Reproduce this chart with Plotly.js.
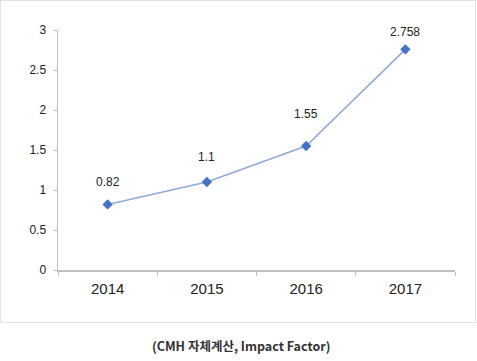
<!DOCTYPE html>
<html><head><meta charset="utf-8">
<script src="https://cdn.plot.ly/plotly-3.0.1.min.js"></script>
<style>
html,body{margin:0;padding:0;background:#fff;}
#wrap{position:relative;width:477px;height:361px;}
#frame{position:absolute;left:0;top:0;width:474px;height:321px;border:1.5px solid #e2e2e2;pointer-events:none;}
#chart{position:absolute;left:0;top:0;width:477px;height:361px;}
</style>
</head><body>
<div id="wrap"><div id="chart"></div><div id="frame"></div></div>
<script>
const years = ['2014', '2015', '2016', '2017'];
const impactFactor = [0.82, 1.1, 1.55, 2.758];
const valueLabels = ['0.82', '1.1', '1.55', '2.758'];
const yTicks = [0, 0.5, 1, 1.5, 2, 2.5, 3];
const caption = '(CMH 자체계산, Impact Factor)';

// pixel offsets of the value labels above their markers (layout only)
const labelOffsets = [22, 25, 32, 17];

const trace = {
  x: years, y: impactFactor, type: 'scatter', mode: 'lines+markers',
  line: {color: '#8fa9d9', width: 1.5},
  marker: {symbol: 'diamond', size: 8, color: '#4472c4'},
  cliponaxis: false,
  hoverinfo: 'skip'
};
const annotations = years.map((yr, i) => ({
  xref: 'x', yref: 'y', x: i, y: impactFactor[i], text: valueLabels[i],
  showarrow: false, yanchor: 'middle', yshift: labelOffsets[i],
  font: {family: 'Liberation Sans, Arial', size: 12, color: '#222'}
}));
annotations.push({
  xref: 'paper', yref: 'paper', x: 0.46, y: -0.3125, yanchor: 'middle', text: '<b>' + caption + '</b>',
  showarrow: false, font: {family: 'Noto Sans CJK KR', size: 12.5, color: '#333'}
});
const layout = {
  width: 477, height: 361,
  margin: {l: 58, r: 22, t: 30, b: 91},
  paper_bgcolor: 'rgba(0,0,0,0)', plot_bgcolor: 'rgba(0,0,0,0)',
  showlegend: false,
  xaxis: {
    type: 'category', range: [-0.5, 3.5], tickson: 'boundaries',
    showline: true, linecolor: '#bfbfbf', linewidth: 1.5,
    ticks: 'outside', ticklen: 4, tickcolor: '#bfbfbf', tickwidth: 1,
    showgrid: false, zeroline: false, ticklabelstandoff: 4,
    tickfont: {family: 'Liberation Sans, Arial', size: 15, color: '#222'}
  },
  yaxis: {
    range: [0, 3], tickvals: yTicks, ticktext: yTicks.map(String),
    showline: true, linecolor: '#bfbfbf', linewidth: 1.5,
    ticks: 'outside', ticklen: 4, tickcolor: '#bfbfbf', tickwidth: 1,
    showgrid: false, zeroline: false, ticklabelstandoff: 4,
    tickfont: {family: 'Liberation Sans, Arial', size: 12, color: '#222'}
  },
  annotations: annotations
};
Plotly.newPlot('chart', [trace], layout, {displayModeBar: false, staticPlot: true});
</script>
</body></html>
